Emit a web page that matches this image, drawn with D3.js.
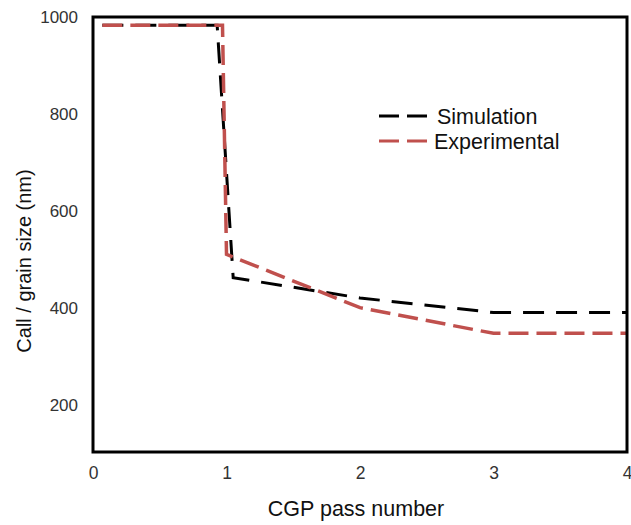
<!DOCTYPE html>
<html>
<head>
	<meta charset="utf-8">
	<title>CGP pass number</title>
	<style type="text/css">
	body { margin:0; background:#fff; }
	svg text { font-family: "Liberation Sans", Arial, sans-serif; }
	</style>
</head>
<body>
	<div id="chart"></div>
	<script src="https://d3js.org/d3.v7.min.js"></script>
	<script type="text/javascript">
		// datos
		var simX = [0.07, 0.93, 1.05, 2, 3, 4];
		var simY = [983, 983, 462, 420, 390, 390];
		var expX = [0.07, 0.97, 1.0, 2, 3, 4];
		var expY = [983, 983, 510, 400, 347, 347];
		var xTicks = [0, 1, 2, 3, 4];
		var yTicks = [200, 400, 600, 800, 1000];
		var seriesNames = ["Simulation", "Experimental"];

		var width = 631, height = 525;
		var margin = {top: 17, right: 4, bottom: 73, left: 93};

		var svg = d3.select("#chart")
			.append("svg")
			.attr("width", width)
			.attr("height", height);

		var x = d3.scaleLinear().domain([0, 4]).range([margin.left, width - margin.right]);
		var y = d3.scaleLinear().domain([100, 1000]).range([height - margin.bottom + 1, margin.top]);

		// ejes sin marcas, solo etiquetas
		var xAxis = svg.append("g")
			.attr("transform", "translate(0," + (height - margin.bottom) + ")")
			.call(d3.axisBottom(x).tickValues(xTicks).tickSize(0).tickPadding(15).tickFormat(d3.format("d")));
		xAxis.select(".domain").remove();
		xAxis.selectAll("text").attr("font-size", 17.5).attr("fill", "#333")
			.style("font-family", "Liberation Sans, Arial, sans-serif");

		var yAxis = svg.append("g")
			.attr("transform", "translate(" + margin.left + ",0)")
			.call(d3.axisLeft(y).tickValues(yTicks).tickSize(0).tickPadding(15).tickFormat(d3.format("d")));
		yAxis.select(".domain").remove();
		yAxis.selectAll("text").attr("font-size", 17).attr("fill", "#333")
			.style("font-family", "Liberation Sans, Arial, sans-serif");

		var line = d3.line()
			.x(function(d){ return x(d[0]); })
			.y(function(d){ return y(d[1]); });

		var simData = simX.map(function(v, i){ return [v, simY[i]]; });
		var expData = expX.map(function(v, i){ return [v, expY[i]]; });

		svg.append("path")
			.datum(simData)
			.attr("d", line)
			.attr("fill", "none")
			.attr("stroke", "#000")
			.attr("stroke-width", 3)
			.attr("stroke-dasharray", "21,12");

		svg.append("path")
			.datum(expData)
			.attr("d", line)
			.attr("fill", "none")
			.attr("stroke", "#c0504d")
			.attr("stroke-width", 3.5)
			.attr("stroke-dasharray", "20,8");

		// marco
		svg.append("rect")
			.attr("x", margin.left)
			.attr("y", margin.top)
			.attr("width", width - margin.left - margin.right)
			.attr("height", height - margin.top - margin.bottom)
			.attr("fill", "none")
			.attr("stroke", "#000")
			.attr("stroke-width", 3);

		// leyenda
		var legend = svg.append("g").attr("transform", "translate(379,116)");
		var colors = ["#000", "#c0504d"];
		seriesNames.forEach(function(name, i){
			legend.append("line")
				.attr("x1", 0).attr("x2", 49)
				.attr("y1", i * 25).attr("y2", i * 25)
				.attr("stroke", colors[i])
				.attr("stroke-width", 3)
				.attr("stroke-dasharray", "20,8");
			legend.append("text")
				.attr("x", i == 0 ? 58 : 55)
				.attr("y", i * 25)
				.attr("dy", "0.35em")
				.attr("font-size", 21.5)
				.attr("fill", "#111")
				.text(name);
		});

		// titulos de ejes
		svg.append("text")
			.attr("x", 356)
			.attr("y", 516)
			.attr("text-anchor", "middle")
			.attr("font-size", 21.5)
			.attr("fill", "#111")
			.text("CGP pass number");

		svg.append("text")
			.attr("transform", "translate(31,261) rotate(-90)")
			.attr("text-anchor", "middle")
			.attr("font-size", 20)
			.attr("fill", "#111")
			.text("Call / grain size (nm)");
	</script>
</body>
</html>
